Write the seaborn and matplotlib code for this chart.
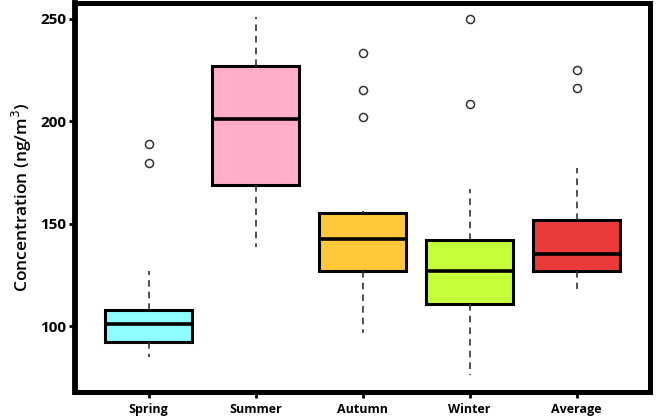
import numpy as np
import pandas as pd
import matplotlib
matplotlib.use("Agg")
import matplotlib.pyplot as plt
import seaborn as sns

# five-number summaries (ng/m3)
SEASONS = ["Spring", "Summer", "Autumn", "Winter", "Average"]
WHISK_LO = [85.0, 138.7, 96.7, 76.1, 117.9]
Q1 = [92.3, 168.8, 127.0, 110.7, 126.8]
MEDIAN = [101.0, 200.8, 142.6, 126.8, 135.1]
Q3 = [107.8, 227.0, 155.3, 142.0, 151.7]
WHISK_HI = [127.0, 250.6, 156.2, 166.7, 176.9]
OUTLIERS = [
    [179.4, 188.8],
    [],
    [201.8, 215.1, 233.3],
    [208.1, 249.6],
    [216.2, 224.9],
]
COLORS = ["#8DFDFD", "#FFADC9", "#FFC83A", "#C5FF3A", "#EA3A3A"]

# long-form table for seaborn: repeat the quartile values so the
# computed box statistics land exactly on the summary above
K = 5
rows = []
for i, s in enumerate(SEASONS):
    vals = [WHISK_LO[i]] + [Q1[i]] * K + [MEDIAN[i]] * K + [Q3[i]] * K + [WHISK_HI[i]] + OUTLIERS[i]
    rows += [(s, v) for v in vals]
df = pd.DataFrame(rows, columns=["Season", "Concentration"])

sns.set_style("white")
plt.rcParams["font.family"] = ["Open Sans", "DejaVu Sans"]
plt.rcParams["text.color"] = "black"
plt.rcParams["axes.labelcolor"] = "black"
plt.rcParams["xtick.color"] = "black"
plt.rcParams["ytick.color"] = "black"

fig, ax = plt.subplots(figsize=(6.57, 4.19), dpi=100)
fig.subplots_adjust(left=0.114, right=0.990, top=0.993, bottom=0.065)

sns.boxplot(
    data=df, x="Season", y="Concentration", hue="Season", order=SEASONS,
    palette=dict(zip(SEASONS, COLORS)), saturation=1, width=0.81,
    linecolor="black", linewidth=2.2, showcaps=False, legend=False,
    whiskerprops=dict(color="#333333", linewidth=1.2, linestyle=(0, (4, 3))),
    medianprops=dict(color="black", linewidth=2.6),
    flierprops=dict(marker="o", markersize=5.8, markerfacecolor="white",
                    markeredgecolor="#333333", markeredgewidth=1.1),
    ax=ax,
)

ax.set_xlim(-0.69, 4.69)
ax.set_ylim(68, 257.6)
ax.set_yticks([100, 150, 200, 250])
ax.set_xlabel("")
ax.set_ylabel("Concentration (ng/m$^3$)", fontsize=12.5, fontweight="semibold", labelpad=5)

for side in ["left", "right", "top", "bottom"]:
    ax.spines[side].set_visible(True)
    ax.spines[side].set_color("black")
    ax.spines[side].set_linewidth(3.6)
ax.spines["left"].set_linewidth(4.2)

ax.tick_params(axis="y", length=4, width=2, direction="out", labelsize=11, pad=2, left=True)
ax.tick_params(axis="x", length=4, width=2, direction="out", labelsize=9, pad=4, bottom=True)
for lbl in ax.get_yticklabels() + ax.get_xticklabels():
    lbl.set_fontweight("bold")

fig.savefig("out.png", dpi=100)
